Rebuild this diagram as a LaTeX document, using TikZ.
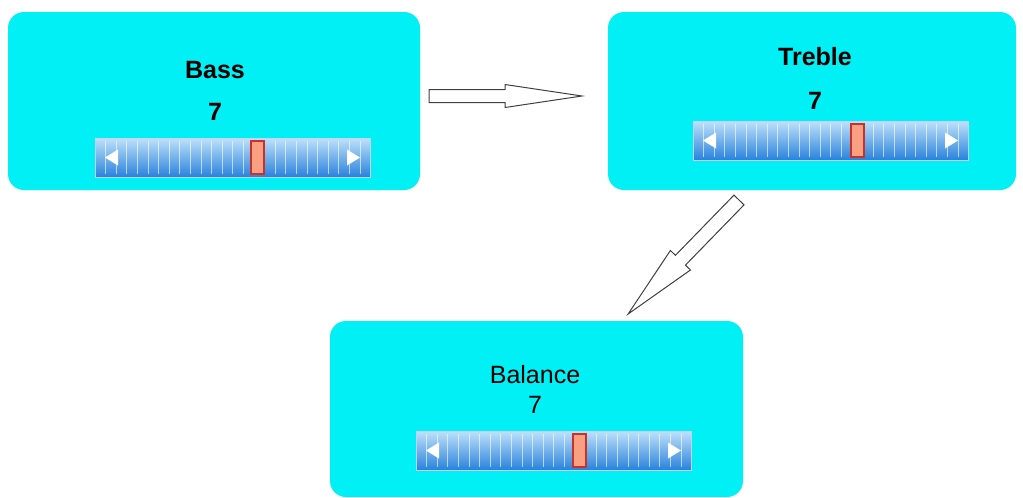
\documentclass[tikz,border=0pt]{standalone}
\usepackage{fontspec}
\setmainfont{Liberation Sans}

\definecolor{panelcyan}{RGB}{0,240,245}
\definecolor{bartop}{RGB}{190,225,250}
\definecolor{barbot}{RGB}{40,130,220}
\definecolor{thumbfill}{RGB}{250,160,130}
\definecolor{thumbline}{RGB}{200,50,40}

\tikzset{
  panel/.style={fill=panelcyan, rounded corners=16pt, draw=none},
  title/.style={font=\fontsize{25}{28}\selectfont\bfseries},
  value/.style={font=\fontsize{25}{28}\selectfont\bfseries},
  hollow/.style={draw=black!75, line width=1pt, fill=white, line join=miter},
}

% slider: #1 left x, #2 top y, #3 thumb left x
\newcommand{\slidebar}[3]{
  \shade[top color=bartop, bottom color=barbot, draw=white!80!blue] (#1,#2) rectangle ++(275,39);
  \foreach \i in {1,...,25}
    \draw[white, opacity=0.6, line width=1pt] ({#1+\i*10.6},{#2+3}) -- ++(0,33);
  \fill[white] ({#1+10},{#2+19.5}) -- ++(13,-8) -- ++(0,16) -- cycle;
  \fill[white] ({#1+265},{#2+19.5}) -- ++(-13,-8) -- ++(0,16) -- cycle;
  \draw[thumbline, fill=thumbfill, line width=1.5pt] (#3,{#2+3}) rectangle ++(13,33);
}
% hollow arrow along local x: #1 length, #2 shaft half, #3 head half, #4 head length
\newcommand{\blockarrow}[4]{
  \draw[hollow] (0,-#2) -- ({#1-#4},-#2) -- ({#1-#4},-#3) -- (#1,0)
    -- ({#1-#4},#3) -- ({#1-#4},#2) -- (0,#2) -- cycle;
}

\begin{document}
\begin{tikzpicture}[x=1pt, y=-1pt]
  \useasboundingbox (0,0) rectangle (1023,498);

  % panels
  \node[panel, minimum width=412pt, minimum height=178pt] (bass) at (214,101) {};
  \node[panel, minimum width=408pt, minimum height=178pt] (treble) at (812,101) {};
  \node[panel, minimum width=413pt, minimum height=176pt] (balance) at (536.5,409) {};

  \node[title] (basst) at (215,70) {Bass};
  \node[value] (bassv) at (215,112) {7};
  \node[title] (treblet) at (815,57) {Treble};
  \node[value] (treblev) at (815,101) {7};
  \node[font=\fontsize{25}{28}\selectfont] (balancet) at (535,375) {Balance};
  \node[font=\fontsize{25}{28}\selectfont] (balancev) at (535,405) {7};

  \slidebar{95}{138}{251}
  \slidebar{693}{121}{851}
  \slidebar{416}{431}{573}

  % arrows between panels
  \begin{scope}[shift={(429,96)}]
    \blockarrow{153}{6.5}{11.5}{77}
  \end{scope}
  \begin{scope}[shift={(739,200)}, rotate=225.8]
    \blockarrow{159}{7}{14}{75}
  \end{scope}
\end{tikzpicture}
\end{document}
